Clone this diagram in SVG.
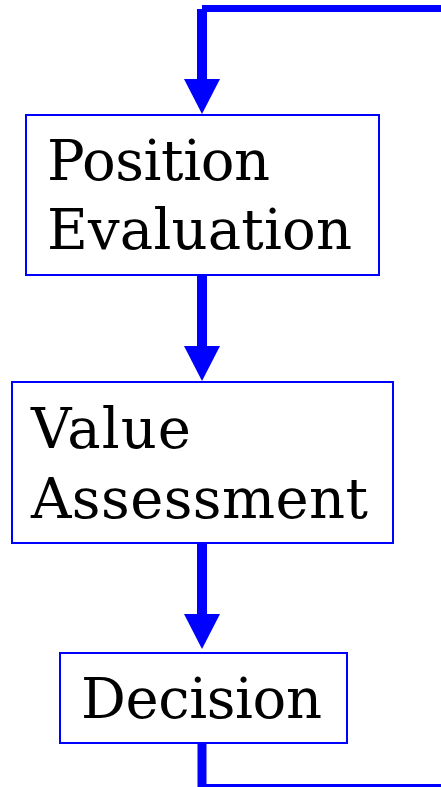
<svg xmlns="http://www.w3.org/2000/svg" width="441" height="787" viewBox="0 0 441 787">
  <style>
    .box { fill: #ffffff; stroke: #0000ff; stroke-width: 2; }
    .label { font-family: "DejaVu Serif", "Liberation Serif", serif; font-size: 56px; fill: #000000; }
    .flow { fill: none; stroke: #0000ff; stroke-linecap: butt; }
  </style>
  <defs>
    <marker id="arrowhead" markerUnits="userSpaceOnUse" viewBox="0 0 35 36" refX="0" refY="18" markerWidth="35" markerHeight="36" orient="auto">
      <path d="M0,0 L35,18 L0,36 Z" fill="#0000ff"/>
    </marker>
  </defs>

  <rect width="441" height="787" fill="#ffffff"/>

  <g id="connectors">
    <!-- loop back from the right edge into the first step -->
    <path class="flow" d="M202,8.5 H441" stroke-width="7"/>
    <path class="flow" d="M202,9 V79" stroke-width="10" marker-end="url(#arrowhead)"/>
    <!-- step to step -->
    <path class="flow" d="M202,276 V346" stroke-width="10" marker-end="url(#arrowhead)"/>
    <path class="flow" d="M202,544 V614" stroke-width="10" marker-end="url(#arrowhead)"/>
    <!-- exit from the decision, running off to the right -->
    <path class="flow" d="M202,744 V787" stroke-width="9"/>
    <path class="flow" d="M206,787 H441" stroke-width="6"/>
  </g>

  <g id="position-evaluation">
    <rect class="box" x="26" y="115" width="353" height="160"/>
    <text class="label" x="47" y="180" textLength="223">Position</text>
    <text class="label" x="47" y="249" textLength="305">Evaluation</text>
  </g>

  <g id="value-assessment">
    <rect class="box" x="12" y="382" width="381" height="161"/>
    <text class="label" x="31" y="448" textLength="160">Value</text>
    <text class="label" x="31" y="518" textLength="337">Assessment</text>
  </g>

  <g id="decision">
    <rect class="box" x="60" y="653" width="287" height="90"/>
    <text class="label" x="81" y="718" textLength="241">Decision</text>
  </g>
</svg>
